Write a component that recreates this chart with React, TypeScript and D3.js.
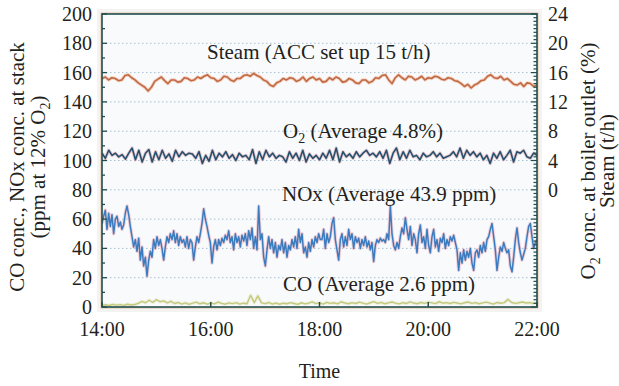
import React from "react"
import * as d3 from "d3"

// minutes after 14:00
const timeTicks = [0, 120, 240, 360, 480]
const timeLabels = ["14:00", "16:00", "18:00", "20:00", "22:00"]
const leftTicks = [0, 20, 40, 60, 80, 100, 120, 140, 160, 180, 200]
const rightTicks = [0, 4, 8, 12, 16, 20, 24]

// steam flow, t/h (right axis)
const steam = [
  15.2, 15.4, 15.0, 15.3, 15.2, 14.9, 15.0, 15.6, 15.7, 15.3, 15.0, 14.6, 14.3, 14.0, 13.5, 14.0, 14.8, 15.1, 15.4, 14.9,
  14.5, 15.0, 15.0, 14.7, 14.8, 15.3, 15.2, 14.9, 15.0, 15.4, 15.2, 15.5, 15.7, 15.3, 15.2, 14.8, 15.0, 15.5, 15.4, 15.0,
  14.8, 15.2, 15.2, 15.6, 15.7, 15.5, 15.9, 15.6, 15.4, 15.0, 14.8, 14.3, 14.1, 14.6, 14.8, 15.2, 15.0, 15.3, 15.2, 14.8,
  15.0, 15.4, 14.8, 15.2, 15.4, 15.0, 15.2, 14.7, 14.8, 15.3, 15.0, 15.4, 15.2, 14.7, 14.8, 15.2, 15.0, 14.6, 14.5, 15.0,
  15.0, 14.6, 14.8, 15.3, 15.2, 15.6, 15.7, 15.0, 14.5, 15.3, 15.7, 15.3, 15.0, 15.5, 15.4, 15.0, 15.2, 15.5, 15.0, 15.3,
  15.2, 15.5, 15.4, 15.1, 15.0, 15.3, 15.2, 14.9, 14.8, 14.5, 14.1, 14.4, 13.9, 14.3, 14.5, 14.9, 15.0, 15.5, 15.7, 15.3,
  15.2, 15.5, 15.0, 15.2, 14.8, 14.4, 14.3, 14.6, 14.1, 14.6, 14.5, 14.1, 14.3,
]

// O2 at boiler outlet, % (right axis)
const o2 = [
  5.0, 4.3, 5.4, 4.7, 5.0, 4.5, 4.8, 4.2, 5.0, 5.7, 4.1, 5.4, 3.8, 5.0, 5.5, 3.8, 5.2, 4.1, 5.4, 4.3,
  4.9, 3.9, 5.4, 4.5, 5.2, 4.7, 5.0, 4.9, 4.3, 5.2, 3.6, 4.7, 3.9, 5.4, 4.1, 5.0, 4.5, 5.2, 4.3, 4.8,
  4.0, 5.0, 4.5, 4.7, 4.1, 5.5, 3.6, 5.2, 4.1, 5.4, 4.5, 5.0, 4.3, 4.7, 4.5, 3.8, 5.2, 4.3, 5.0, 4.0,
  5.4, 3.8, 4.9, 4.3, 4.7, 4.1,
  5.0, 4.3, 5.4, 4.1, 5.7, 3.8, 5.2, 4.5, 4.9, 4.3, 5.2, 4.5, 5.0, 5.4, 4.7, 5.0, 4.5, 5.2, 4.3, 5.4,
  3.6, 5.0, 5.7, 4.1, 5.2, 4.3, 5.4, 4.5, 4.7, 4.1, 5.0, 4.5, 4.7, 5.2, 4.5, 5.0, 4.3, 4.5, 4.7, 5.2,
  4.5, 5.7, 4.3, 5.4, 4.7, 5.2, 4.5, 5.0, 4.1, 4.7, 3.6, 5.0, 4.3, 5.2, 4.1, 4.7, 5.4, 3.8, 5.2, 5.0,
  5.4, 4.5, 4.3, 5.0, 4.7,
]

// NOx at stack, ppm (left axis)
const nox = [
  57, 62, 66, 53, 64, 55, 63, 50, 60, 62, 55, 58, 53, 56, 64, 69, 63, 55, 48, 41,
  46, 38, 47, 32, 41, 28, 34, 21, 32, 38, 34, 46, 40, 48, 42, 46, 40, 32, 41, 48,
  44, 50, 46, 52, 44, 50, 42, 48, 44, 46, 41, 48, 40, 46, 44, 32, 41, 48, 44, 50,
  57, 67, 60, 55, 49, 44, 30, 41, 46, 39, 46, 42, 47, 44, 49, 46, 52, 44, 48, 39,
  50, 44, 48, 41, 49, 45, 50, 42, 52, 46, 54, 40, 48, 39, 69, 46, 50, 34, 28, 39,
  48, 40, 46, 37, 44, 34, 42, 39, 46, 37, 44, 34, 42, 39, 46, 41, 48, 40, 53, 44,
  50, 37, 41, 34, 44, 38, 46, 41, 48, 44, 50, 46,
  46, 53, 40, 50, 44, 48, 57, 61, 46, 39, 32, 46, 50, 41, 48, 42, 53, 46, 50, 40,
  48, 44, 47, 40, 46, 42, 48, 41, 45, 39, 44, 31, 42, 46, 44, 47, 45, 46, 44, 50,
  46, 69, 50, 42, 39, 44, 40, 48, 54, 50, 61, 53, 46, 55, 42, 50, 46, 37, 50, 56,
  44, 48, 40, 53, 42, 37, 48, 53, 41, 46, 38, 47, 44, 50, 40, 46, 42, 48, 45, 49,
  44, 39, 25, 37, 30, 39, 32, 38, 34, 40, 30, 25, 37, 39, 34, 42, 37, 44, 38, 46,
  48, 53, 57, 48, 39, 25, 34, 41, 38, 44, 40, 37, 39, 28, 24, 34, 46, 54, 44, 37,
  32, 36, 40, 48, 55, 57, 48, 40, 44, 46,
]

// CO at stack, ppm (left axis)
const co = [
  1.2, 1.5, 1.0, 1.8, 1.3, 1.6, 1.1, 1.9, 1.4, 1.7, 2.5, 3.8, 2.9, 4.6, 3.2, 5.0, 3.6, 4.2, 2.8, 3.9,
  2.4, 3.1, 2.0, 2.8, 1.8, 2.6, 3.3, 2.2, 2.9, 1.9, 2.7, 2.1, 3.4, 2.5, 1.9, 2.8, 2.3, 3.0, 2.0, 2.6,
  2.2, 8.0, 3.0, 7.6, 2.8, 2.3, 3.1, 2.0, 2.7, 1.9, 2.6, 2.2, 3.0, 2.4, 1.8, 2.9, 2.1, 2.6, 3.5, 2.3,
  2.8, 2.0, 3.2, 2.5, 2.9, 2.1, 3.6, 2.7, 2.2, 3.0, 2.4, 3.3, 2.6, 2.0, 2.9, 3.7, 2.5, 3.1, 2.2, 2.8,
  3.4, 2.6, 2.1, 3.0, 2.4, 3.5, 2.7, 2.2, 3.1, 2.5, 3.3, 2.8, 2.3, 3.6, 2.6, 3.0, 2.4, 3.2, 2.7, 2.1,
  2.9, 3.4, 2.5, 3.0, 2.2, 2.8, 3.3, 2.6, 2.0, 3.1, 2.6, 3.0, 5.2, 3.1, 2.5, 2.9, 3.4, 2.7, 3.0, 2.4,
  2.8,
]

const W = 619
const H = 386
const left = 102
const right = 537
const top = 14
const bottom = 307
const font = '"Liberation Serif", "DejaVu Serif", "Times New Roman", Times, serif'
const ink = "#231f20"

export default function App() {
  const x = d3.scaleLinear().domain([0, 480]).range([left, right])
  const yL = d3.scaleLinear().domain([0, 200]).range([bottom, top])
  // right axis: 0 sits on left 80, 24 on left 200
  const yR = d3.scaleLinear().domain([-16, 24]).range([bottom, top])

  const path = (vals: number[], y: d3.ScaleLinear<number, number>) =>
    d3.line<number>()
      .x((_, i) => x((i * 480) / (vals.length - 1)))
      .y(d => y(d))(vals) || ""

  const leftMinor = d3.range(0, 201, 10)
  const rightMinor = d3.range(-16, 24.01, 0.5)

  const series = [
    { d: path(steam, yR), color: "#c06a44", halo: "#eeb296", w: 1.6 },
    { d: path(o2, yR), color: "#27506e", halo: "#dcaeb4", w: 1.6 },
    { d: path(nox, yL), color: "#3a7cc0", halo: "#eeb4be", w: 1.5 },
    { d: path(co, yL), color: "#c4c97e", halo: "#e8eacb", w: 1.4 },
  ]

  return (
    <div style={{ position: "absolute", left: 0, top: 0 }}>
      <svg width={W} height={H} viewBox={`0 0 ${W} ${H}`} style={{ display: "block", background: "#fff" }}>
        <defs>
          <clipPath id="plot">
            <rect x={left} y={top} width={right - left} height={bottom - top} />
          </clipPath>
        </defs>

        <rect x={left - 5} y={top - 5} width={right - left + 10} height={bottom - top + 10} fill="#f3f3f1" />
        <rect x={left} y={top} width={right - left} height={bottom - top} fill="#f9fafc" />

        {leftTicks.slice(1, -1).map(v => (
          <line key={"g" + v} x1={left} x2={right} y1={yL(v)} y2={yL(v)}
            stroke="#a9bfcf" strokeWidth={1} strokeDasharray="1.5 2.5" />
        ))}

        <g clipPath="url(#plot)" fill="none" strokeLinejoin="round">
          {series.map((s, i) => (
            <g key={i}>
              <path d={s.d} stroke={s.halo} strokeWidth={3.4} opacity={0.6} />
              <path d={s.d} stroke={s.color} strokeWidth={s.w} />
            </g>
          ))}
        </g>

        {/* frame */}
        <rect x={left - 1} y={top - 1} width={right - left + 2} height={bottom - top + 2}
          fill="none" stroke="#e9a98a" strokeWidth={1} opacity={0.7} />
        <rect x={left} y={top} width={right - left} height={bottom - top}
          fill="none" stroke="#1f4e4c" strokeWidth={1.6} />

        {/* inward ticks */}
        {leftMinor.map(v => (
          <line key={"lt" + v} x1={left} x2={left + (v % 20 === 0 ? 5 : 3)} y1={yL(v)} y2={yL(v)}
            stroke="#1f4e4c" strokeWidth={1.3} />
        ))}
        {rightMinor.map(v => (
          <line key={"rt" + v} x1={right} x2={right - (Math.abs(v % 4) < 0.01 ? 6 : 3.5)} y1={yR(v)} y2={yR(v)}
            stroke="#1f4e4c" strokeWidth={1.2} />
        ))}
        {timeTicks.map(t => (
          <line key={"bt" + t} x1={x(t)} x2={x(t)} y1={bottom} y2={bottom - 5}
            stroke="#1f4e4c" strokeWidth={1.5} />
        ))}

        <g style={{ fontFamily: font }} fill={ink}>
          {leftTicks.map(v => (
            <text key={"ll" + v} x={left - 10} y={yL(v)} dy="0.35em" textAnchor="end" fontSize={20}>{v}</text>
          ))}
          {rightTicks.map(v => (
            <text key={"rl" + v} x={right + 11} y={yR(v)} dy="0.35em" textAnchor="start" fontSize={20}>{v}</text>
          ))}
          {timeTicks.map((t, i) => (
            <text key={"tl" + t} x={x(t)} y={336} textAnchor="middle" fontSize={20}>{timeLabels[i]}</text>
          ))}

          <text x={(left + right) / 2} y={378} textAnchor="middle" fontSize={20}>Time</text>

          <text transform="translate(24,167) rotate(-90)" textAnchor="middle" fontSize={21}>
            CO conc., NOx conc. at stack
          </text>
          <text transform="translate(45,167) rotate(-90)" textAnchor="middle" fontSize={21}>
            (ppm at 12% O<tspan fontSize={14} dy={5}>2</tspan><tspan dy={-5}>)</tspan>
          </text>

          <text transform="translate(595,161) rotate(-90)" textAnchor="middle" fontSize={21}>
            O<tspan fontSize={14} dy={5}>2</tspan><tspan dy={-5}> conc. at boiler outlet (%)</tspan>
          </text>
          <text transform="translate(614,161) rotate(-90)" textAnchor="middle" fontSize={21}>
            Steam (t/h)
          </text>

          <text x={207} y={59} fontSize={21}>Steam (ACC set up 15 t/h)</text>
          <text x={283} y={138} fontSize={21}>
            O<tspan fontSize={14} dy={5}>2</tspan><tspan dy={-5}> (Average 4.8%)</tspan>
          </text>
          <text x={282} y={201} fontSize={21}>NOx (Average 43.9 ppm)</text>
          <text x={283} y={291} fontSize={21}>CO (Average 2.6 ppm)</text>
        </g>
      </svg>
    </div>
  )
}
